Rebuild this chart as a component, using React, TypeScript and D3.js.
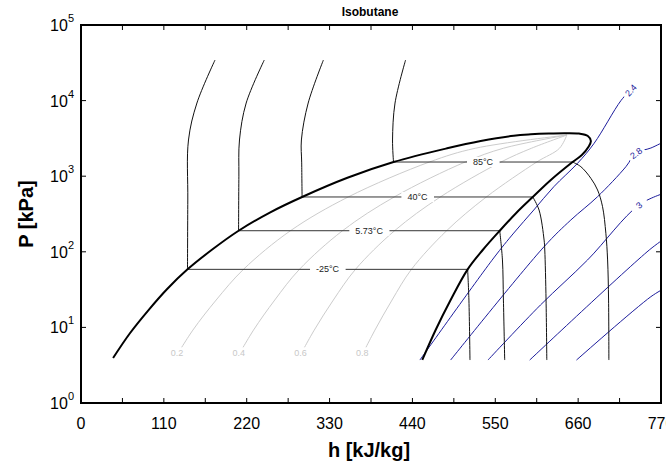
import React, { useEffect, useRef } from 'react';
import * as d3 from 'd3';

// Isobutane P-h diagram (h in kJ/kg, P in kPa)

const width = 666;
const height = 466;
const plot = { left: 81, right: 661, top: 25, bottom: 403 };

const xTicks = d3.range(0, 771, 55);
const xLabels = d3.range(0, 771, 110);
const yDecades = [1, 10, 100, 1000, 10000, 100000];

// saturation dome: liquid side up, over the top, vapour side down
const dome: [number, number][] = [
  [42.6, 3.94], [65.2, 8.43], [89.1, 16.7], [114.4, 32.2], [141.4, 58.6], [174.2, 107.2],
  [209.2, 190], [251.3, 333], [293.5, 531], [353.7, 953], [414.9, 1540], [486.1, 2339],
  [530.6, 2922], [574.5, 3435], [597.1, 3583], [621.1, 3673], [643.7, 3707], [661, 3659],
  [672.9, 3404], [676.9, 2922], [673.6, 2433], [664.9, 1907], [652.6, 1540],
  [623.7, 891], [599.8, 531], [577.8, 326], [555.9, 190], [533.3, 105.6],
  [513.3, 58.6], [490.7, 23], [470.8, 9.24], [453.1, 3.71],
];

// isotherms
const tempLabels = ['-25°C', '5.73°C', '40°C', '85°C'];
const satP = [58.6, 190, 531, 1540];
const hLiq = [141.4, 209.2, 293.5, 414.9];
const hVap = [513.3, 555.9, 599.8, 652.6];

const liquidIso: [number, number][][] = [
  [[141.4, 58.6], [141.8, 484], [142.7, 3013], [153.9, 9290], [177.9, 34400]],
  [[209.2, 190], [209.6, 1000], [210.4, 3013], [219.3, 9290], [243.3, 34400]],
  [[293.5, 531], [293, 1500], [292.6, 3013], [301.6, 9290], [321.8, 34400]],
  [[414.9, 1540], [413.6, 3013], [416.9, 9290], [430.9, 34400]],
];

const vapourIso: [number, number][][] = [
  [[513.3, 58.6], [515, 23], [516.4, 3.7]],
  [[555.9, 190], [559.5, 78], [560.8, 23], [562.5, 3.7]],
  [[599.8, 531], [608.1, 357], [614.8, 143], [615.7, 105.6], [617.4, 23], [618.4, 3.7]],
  [[652.6, 1540], [663.6, 1336], [676.9, 938], [685.8, 657], [692.4, 395],
    [696.8, 176], [699.1, 78], [700.4, 23], [700.8, 3.7]],
];

// vapour quality lines
const qualityLabels = ['0.2', '0.4', '0.6', '0.8'];
const qualityLines: [number, number][][] = [
  [[124.7, 3.9], [148.5, 9.2], [179.4, 23], [215.7, 58.6], [278.1, 190], [354.7, 531], [462.5, 1540], [523.3, 2340], [645, 3500]],
  [[206.8, 3.9], [229, 9.2], [257.2, 23], [290, 58.6], [347.2, 190], [415.8, 531], [510, 1540], [560.6, 2340], [645, 3500]],
  [[288.8, 3.9], [309.6, 9.2], [335, 23], [364.4, 58.6], [416.3, 190], [477, 531], [557.5, 1540], [597.9, 2340], [645, 3500]],
  [[370.9, 3.9], [390.2, 9.2], [412.9, 23], [438.7, 58.6], [485.4, 190], [538.1, 531], [605, 1540], [635.2, 2340], [645, 3500]],
];

// isentropes (kJ/kg/K); label sits on the point given by labelAt
const entropyLabels = ['2.4', '2.8', '3', '', ''];
const entropyLabelAt = [8, 5, 3, -1, -1];
const entropyLines: [number, number][][] = [
  [[449.9, 3.7], [547.9, 82.8], [574.5, 177], [601.1, 357], [627.7, 726], [659.2, 1482], [681.2, 2723], [716.8, 10000], [729.5, 13800]],
  [[490.7, 3.7], [614.8, 117], [650.3, 263.5], [685.8, 536], [723.4, 1336], [736.7, 2028], [756.6, 2360], [775, 2900]],
  [[540.3, 3.7], [610, 19.8], [672.5, 78], [740.7, 416], [775, 600]],
  [[595.7, 3.7], [754.4, 105.6], [775, 150]],
  [[657.8, 3.7], [756.6, 25.5], [775, 33]],
];

const font = 'Liberation Sans, Arial, Helvetica, sans-serif';
const blue = '#1c1c9c';

const App = () => {
  const ref = useRef<SVGSVGElement>(null);

  useEffect(() => {
    const svg = d3.select(ref.current);
    svg.selectAll('*').remove();

    const x = d3.scaleLinear().domain([0, 770]).range([plot.left, plot.right]);
    const y = d3.scaleLog().domain([1, 1e5]).range([plot.bottom, plot.top]);
    const line = d3.line<[number, number]>()
      .x(d => x(d[0]))
      .y(d => y(d[1]))
      .curve(d3.curveCatmullRom.alpha(0.5));

    svg.append('defs').append('clipPath').attr('id', 'plotClip')
      .append('rect')
      .attr('x', plot.left).attr('y', plot.top)
      .attr('width', plot.right - plot.left).attr('height', plot.bottom - plot.top);

    const g = svg.append('g').attr('clip-path', 'url(#plotClip)');

    // quality lines
    g.selectAll('path.q').data(qualityLines).enter().append('path')
      .attr('d', d => line(d))
      .attr('fill', 'none').attr('stroke', '#cccccc').attr('stroke-width', 1);

    qualityLines.forEach((pts, i) => {
      const px = x(pts[0][0]) + 2;
      const py = y(pts[0][1]) - 5;
      g.append('rect').attr('x', px - 9).attr('y', py - 6).attr('width', 18).attr('height', 12).attr('fill', 'white');
      g.append('text').attr('x', px).attr('y', py + 3)
        .attr('text-anchor', 'middle').attr('font-family', font).attr('font-size', 9)
        .attr('fill', '#c8c8c8').text(qualityLabels[i]);
    });

    // isentropes
    entropyLines.forEach((pts, i) => {
      g.append('path').attr('d', line(pts))
        .attr('fill', 'none').attr('stroke', blue).attr('stroke-width', 1);
      const k = entropyLabelAt[i];
      if (k < 0) return;
      const a = pts[Math.max(k - 1, 0)];
      const b = pts[Math.min(k + 1, pts.length - 1)];
      const ang = Math.atan2(y(b[1]) - y(a[1]), x(b[0]) - x(a[0])) * 180 / Math.PI;
      const lg = g.append('g')
        .attr('transform', `translate(${x(pts[k][0])},${y(pts[k][1])}) rotate(${ang})`);
      lg.append('rect').attr('x', -9).attr('y', -6).attr('width', 18).attr('height', 12).attr('fill', 'white');
      lg.append('text').attr('y', 3.5).attr('text-anchor', 'middle')
        .attr('font-family', font).attr('font-size', 9).attr('fill', blue).text(entropyLabels[i]);
    });

    // isotherms in liquid and vapour regions
    g.selectAll('path.liq').data(liquidIso.concat(vapourIso)).enter().append('path')
      .attr('d', d => line(d))
      .attr('fill', 'none').attr('stroke', '#111').attr('stroke-width', 1);

    // isotherms across the dome, with labels
    satP.forEach((p, i) => {
      g.append('line')
        .attr('x1', x(hLiq[i])).attr('x2', x(hVap[i]))
        .attr('y1', y(p)).attr('y2', y(p))
        .attr('stroke', '#333').attr('stroke-width', 1);
      const mx = (x(hLiq[i]) + x(hVap[i])) / 2;
      const t = g.append('text').attr('x', mx).attr('y', y(p) + 3)
        .attr('text-anchor', 'middle').attr('font-family', font).attr('font-size', 9)
        .attr('fill', '#222').text(tempLabels[i]);
      const bb = (t.node() as SVGTextElement).getBBox();
      g.insert('rect', () => t.node())
        .attr('x', bb.x - 6).attr('y', bb.y).attr('width', bb.width + 12).attr('height', bb.height)
        .attr('fill', 'white');
    });

    // saturation dome
    g.append('path').attr('d', line(dome))
      .attr('fill', 'none').attr('stroke', '#000').attr('stroke-width', 2);

    // frame and ticks
    const axes = svg.append('g');
    xTicks.forEach(v => {
      axes.append('line').attr('x1', x(v)).attr('x2', x(v)).attr('y1', plot.bottom).attr('y2', plot.bottom - 5).attr('stroke', '#000');
      axes.append('line').attr('x1', x(v)).attr('x2', x(v)).attr('y1', plot.top).attr('y2', plot.top + 5).attr('stroke', '#000');
    });
    yDecades.forEach(v => {
      axes.append('line').attr('x1', plot.left).attr('x2', plot.left + 5).attr('y1', y(v)).attr('y2', y(v)).attr('stroke', '#000');
      axes.append('line').attr('x1', plot.right).attr('x2', plot.right - 5).attr('y1', y(v)).attr('y2', y(v)).attr('stroke', '#000');
    });
    axes.append('rect')
      .attr('x', plot.left).attr('y', plot.top)
      .attr('width', plot.right - plot.left).attr('height', plot.bottom - plot.top)
      .attr('fill', 'none').attr('stroke', '#000').attr('stroke-width', 2);

    xLabels.forEach(v => {
      axes.append('text').attr('x', x(v)).attr('y', 429)
        .attr('text-anchor', 'middle').attr('font-family', font).attr('font-size', 16)
        .text(v);
    });
    yDecades.forEach(v => {
      const t = axes.append('text').attr('x', 74).attr('y', y(v) + 6)
        .attr('text-anchor', 'end').attr('font-family', font).attr('font-size', 16);
      t.append('tspan').text('10');
      t.append('tspan').attr('dy', -9).attr('font-size', 11).text(Math.round(Math.log10(v)));
    });

    svg.append('text').attr('x', 370).attr('y', 16)
      .attr('text-anchor', 'middle').attr('font-family', font).attr('font-size', 12)
      .attr('font-weight', 'bold').text('Isobutane');
    svg.append('text').attr('x', 369).attr('y', 457)
      .attr('text-anchor', 'middle').attr('font-family', font).attr('font-size', 20)
      .attr('font-weight', 'bold').text('h [kJ/kg]');
    svg.append('text').attr('transform', `translate(33,214) rotate(-90)`)
      .attr('text-anchor', 'middle').attr('font-family', font).attr('font-size', 20)
      .attr('font-weight', 'bold').text('P [kPa]');
  });

  return (
    <svg
      ref={ref}
      width={width}
      height={height}
      viewBox={`0 0 ${width} ${height}`}
      style={{ position: 'absolute', left: 0, top: 0, background: 'white' }}
    />
  );
};

export default App;
